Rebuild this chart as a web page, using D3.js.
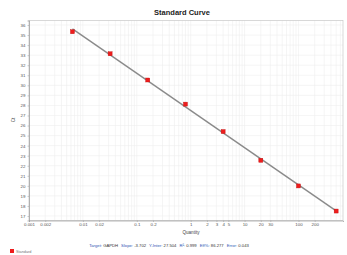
<!DOCTYPE html>
<html>
<head>
<meta charset="utf-8">
<script src="https://cdn.jsdelivr.net/npm/d3@7"></script>
<style>
  body { margin: 0; background: #fff; }
  svg { display: block; font-family: Arial, "Liberation Sans", sans-serif; }
  .grid line { stroke: #efefef; stroke-width: 0.6; }
  .tick-label { fill: #555; font-size: 4.4px; }
</style>
</head>
<body>
<svg id="chart" width="347" height="255"></svg>
<script>
// standard dilution series (5-fold) and measured Ct
const quantities = [0.0064, 0.032, 0.16, 0.8, 4, 20, 100, 500];
const ctValues = [35.33, 33.14, 30.53, 28.13, 25.40, 22.54, 19.99, 17.49];

const xTickLabels = [0.001, 0.002, 0.01, 0.02, 0.1, 0.2, 1, 2, 3, 4, 5, 10, 20, 30, 100, 200];
const yTickLabels = d3.range(17, 37);
const targetName = 'GAPDH';

const width = 347;
const height = 255;
const margin = {top: 20.5, right: 4, bottom: 34.5, left: 29};

const svg = d3.select('#chart');

let xScale = d3.scaleLog()
    .domain([0.001, 670])
    .range([margin.left, width - margin.right]);

let yScale = d3.scaleLinear()
    .domain([16.55, 36.45])
    .range([height - margin.bottom, margin.top]);

// grid lines, every log step and every Ct unit
let xGrid = [];
for (let e = -3; e <= 2; e++) {
    for (let m = 1; m <= 9; m++) {
        let v = m * Math.pow(10, e);
        if (v <= 670) xGrid.push(v);
    }
}

let gGrid = svg.append('g').classed('grid', true);
gGrid.selectAll('line.v')
    .data(xGrid)
    .enter()
    .append('line')
    .attr('x1', d => xScale(d))
    .attr('x2', d => xScale(d))
    .attr('y1', margin.top)
    .attr('y2', height - margin.bottom);

gGrid.selectAll('line.h')
    .data(yTickLabels)
    .enter()
    .append('line')
    .attr('x1', margin.left)
    .attr('x2', width - margin.right)
    .attr('y1', d => yScale(d))
    .attr('y2', d => yScale(d));

// frame
svg.append('rect')
    .attr('x', margin.left)
    .attr('y', margin.top)
    .attr('width', width - margin.left - margin.right)
    .attr('height', height - margin.top - margin.bottom)
    .attr('fill', 'none')
    .attr('stroke', '#c8c8c8')
    .attr('stroke-width', 0.7);

// axes
let xAxis = d3.axisBottom(xScale)
    .tickValues(xTickLabels)
    .tickSize(1.5)
    .tickFormat(d3.format('~g'));
let gx = svg.append('g')
    .attr('transform', `translate(0,${height - margin.bottom})`)
    .call(xAxis);

let yAxis = d3.axisLeft(yScale)
    .tickValues(yTickLabels)
    .tickSize(1.5)
    .tickFormat(d3.format('d'));
let gy = svg.append('g')
    .attr('transform', `translate(${margin.left},0)`)
    .call(yAxis);

[gx, gy].forEach(g => {
    g.select('.domain').attr('stroke', '#999').attr('stroke-width', 0.7);
    g.selectAll('.tick line').attr('stroke', '#999').attr('stroke-width', 0.5);
    g.selectAll('.tick text')
        .attr('class', 'tick-label')
        .attr('font-family', null)
        .attr('font-size', null);
});
gx.selectAll('.tick text').attr('dy', '0.9em').attr('y', 2);
gy.selectAll('.tick text').attr('x', -3.5);

// regression fit
let lx = quantities.map(q => Math.log10(q));
let n = lx.length;
let mx = d3.mean(lx);
let my = d3.mean(ctValues);
let sxy = d3.sum(lx, (d, i) => (d - mx) * (ctValues[i] - my));
let sxx = d3.sum(lx, d => (d - mx) * (d - mx));
let slope = sxy / sxx;
let intercept = my - slope * mx;
let ssRes = d3.sum(lx, (d, i) => Math.pow(ctValues[i] - (intercept + slope * d), 2));
let ssTot = d3.sum(ctValues, d => (d - my) * (d - my));
let r2 = 1 - ssRes / ssTot;
let eff = (Math.pow(10, -1 / slope) - 1) * 100;
let stdErr = Math.sqrt(ssRes / (n - 2) / sxx);

let fitEnds = [quantities[0], quantities[n - 1]];
svg.append('line')
    .attr('x1', xScale(fitEnds[0]))
    .attr('y1', yScale(intercept + slope * Math.log10(fitEnds[0])))
    .attr('x2', xScale(fitEnds[1]))
    .attr('y2', yScale(intercept + slope * Math.log10(fitEnds[1])))
    .attr('stroke', '#8a8a8a')
    .attr('stroke-width', 1.4);

// standards
svg.selectAll('rect.pt')
    .data(quantities)
    .enter()
    .append('rect')
    .classed('pt', true)
    .attr('x', (d, i) => xScale(d) - 2)
    .attr('y', (d, i) => yScale(ctValues[i]) - 2)
    .attr('width', 4)
    .attr('height', 4)
    .attr('fill', '#ee1c1c')
    .attr('stroke', '#c01010')
    .attr('stroke-width', 0.4);

// titles
svg.append('text')
    .attr('x', 182)
    .attr('y', 15)
    .attr('text-anchor', 'middle')
    .attr('font-size', 7.5)
    .attr('font-weight', 'bold')
    .attr('fill', '#222')
    .text('Standard Curve');

svg.append('text')
    .attr('x', 191)
    .attr('y', 233.5)
    .attr('text-anchor', 'middle')
    .attr('font-size', 4.6)
    .attr('fill', '#444')
    .text('Quantity');

svg.append('text')
    .attr('transform', 'translate(15,120) rotate(-90)')
    .attr('text-anchor', 'middle')
    .attr('font-size', 4.6)
    .attr('fill', '#444')
    .text('Ct');

// stats line
let stats = [
    ['Target:', targetName],
    ['Slope:', slope.toFixed(3)],
    ['Y-Inter:', intercept.toFixed(3)],
    ['R\u00b2:', r2.toFixed(3)],
    ['Eff%:', eff.toFixed(3)],
    ['Error:', stdErr.toFixed(3)]
];
let statText = svg.append('text')
    .attr('x', 169)
    .attr('y', 247)
    .attr('text-anchor', 'middle')
    .attr('font-size', 4.2);
stats.forEach((s, i) => {
    statText.append('tspan')
        .attr('fill', '#2f55b4')
        .attr('dx', i ? 3 : 0)
        .text(s[0]);
    statText.append('tspan')
        .attr('fill', '#333')
        .attr('dx', 1.2)
        .text(s[1]);
});

// legend
svg.append('rect')
    .attr('x', 10)
    .attr('y', 249)
    .attr('width', 4)
    .attr('height', 4)
    .attr('fill', '#ee1c1c');
svg.append('text')
    .attr('x', 16)
    .attr('y', 252.8)
    .attr('font-size', 3.8)
    .attr('fill', '#777')
    .text('Standard');
</script>
</body>
</html>
